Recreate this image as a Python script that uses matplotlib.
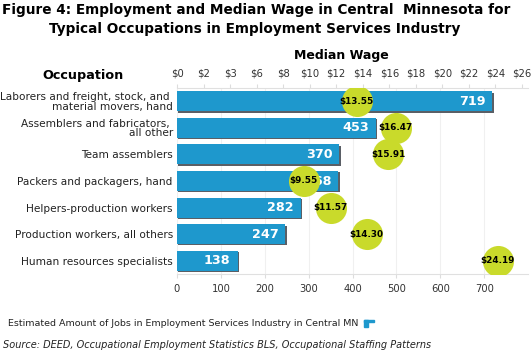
import matplotlib
matplotlib.use("Agg")
import matplotlib.pyplot as plt
from matplotlib.patches import Rectangle

occupations = ["Laborers and freight, stock, and \nmaterial movers, hand",
               "Assemblers and fabricators, \nall other",
               "Team assemblers",
               "Packers and packagers, hand",
               "Helpers-production workers",
               "Production workers, all others",
               "Human resources specialists"]
jobs = [719, 453, 370, 368, 282, 247, 138]
wages = [13.55, 16.47, 15.91, 9.55, 11.57, 14.30, 24.19]
wage_ticks = [0, 2, 4, 6, 8, 10, 12, 14, 16, 18, 20, 22, 24, 26]
wage_tick_labels = ["$0", "$2", "$3", "$6", "$8", "$10", "$12", "$14", "$16",
                    "$18", "$20", "$22", "$24", "$26"]
job_ticks = [0, 100, 200, 300, 400, 500, 600, 700]

W, H = 532, 353
fig = plt.figure(figsize=(W/100, H/100), dpi=100)
fig.patch.set_facecolor("white")
ax = fig.add_axes([177/W, 1-274/H, (528-177)/W, (274-88)/H])
ax.set_xlim(0, 800)
n = len(jobs)
ax.set_ylim(n - 0.5, -0.5)
ys = list(range(n))
bar_color = "#1e98cd"
# shadow
ax.barh([y + 0.05 for y in ys], jobs, height=0.75, left=3, color="#5a5f66", zorder=2)
ax.barh(ys, jobs, height=0.75, color=bar_color, zorder=3)
for y, v in zip(ys, jobs):
    ax.text(v - 16, y, str(v), ha="right", va="center", color="white",
            fontsize=9.2, fontweight="bold", zorder=4)
ax.set_xticks(job_ticks)
ax.set_xticklabels([str(t) for t in job_ticks], fontsize=7.2, color="#333333")
ax.set_yticks(ys)
ax.set_yticklabels(occupations, fontsize=7.6, color="#222222", linespacing=0.95)
ax.tick_params(axis="y", length=0, pad=3)
ax.tick_params(axis="x", length=3, color="#dddddd", pad=4)
ax.grid(axis="x", color="#f0f0f0", linewidth=0.8, zorder=0)
for s in ["top", "right", "left"]:
    ax.spines[s].set_visible(False)
ax.spines["bottom"].set_color("#e0e0e0")

ax2 = ax.twiny()
ax2.set_xlim(0, 26 * 351 / 345)
ax2.set_ylim(ax.get_ylim())
ax2.scatter(wages, ys, s=500, color="#c9da2b", zorder=5, linewidths=0)
for y, w in zip(ys, wages):
    ax2.text(w, y, "${:.2f}".format(w), ha="center", va="center", fontsize=6.4,
             fontweight="bold", color="black", zorder=6)
ax2.set_xticks(wage_ticks)
ax2.set_xticklabels(wage_tick_labels, fontsize=7.2, color="#333333")
ax2.tick_params(axis="x", length=3, color="#dddddd", pad=4)
for s in ["bottom", "right", "left"]:
    ax2.spines[s].set_visible(False)
ax2.spines["top"].set_color("#e0e0e0")

fig.text(256/W, 1-10/H, "Figure 4: Employment and Median Wage in Central  Minnesota for",
         ha="center", va="center", fontsize=9.8, fontweight="bold")
fig.text(255/W, 1-29/H, "Typical Occupations in Employment Services Industry",
         ha="center", va="center", fontsize=9.8, fontweight="bold")
fig.text(341/W, 1-55/H, "Median Wage", ha="center", va="center", fontsize=9,
         fontweight="bold")
fig.text(83/W, 1-75/H, "Occupation", ha="center", va="center", fontsize=9.2,
         fontweight="bold")
fig.text(8/W, 1-324/H, "Estimated Amount of Jobs in Employment Services Industry in Central MN",
         ha="left", va="center", fontsize=6.8, color="#222222")
fig.patches.append(Rectangle((364/W, 1-327/H), 4/W, 7/H, transform=fig.transFigure,
                             color=bar_color))
fig.patches.append(Rectangle((364/W, 1-322/H), 10/W, 2.5/H, transform=fig.transFigure,
                             color=bar_color))
fig.text(3/W, 1-345/H, "Source: DEED, Occupational Employment Statistics BLS, Occupational Staffing Patterns",
         ha="left", va="center", fontsize=7.0, style="italic", color="#222222")

fig.savefig("out.png", dpi=100, facecolor="white")
